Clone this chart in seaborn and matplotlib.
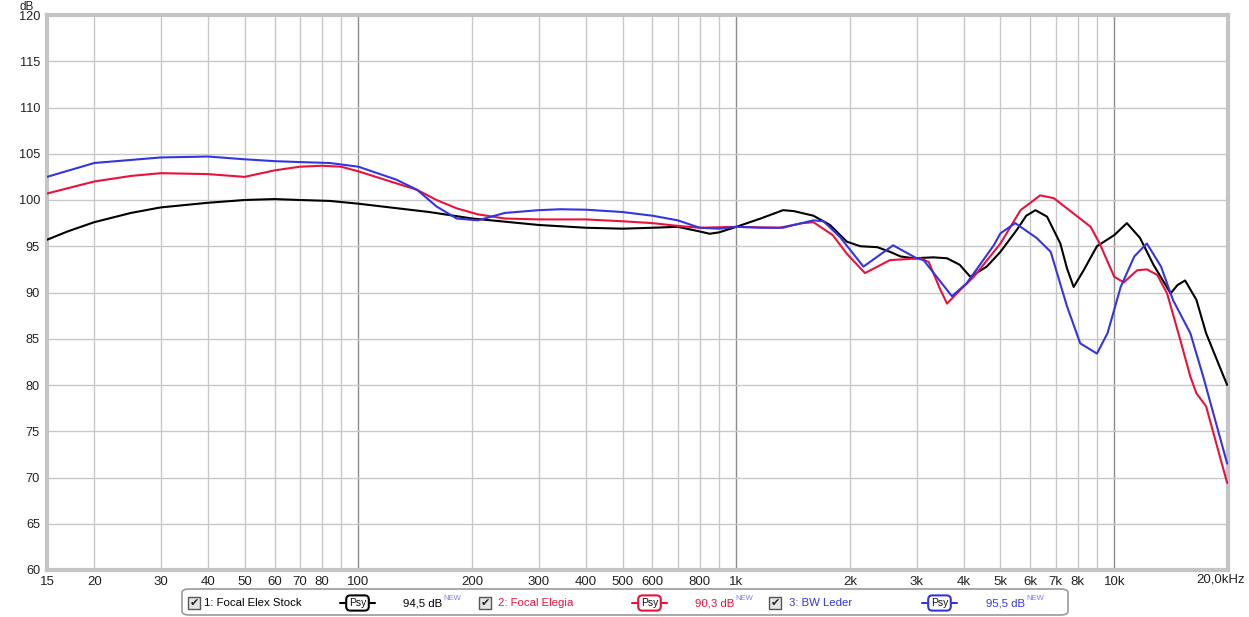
import matplotlib
matplotlib.use("Agg")
import matplotlib.pyplot as plt
import seaborn as sns
import pandas as pd
from matplotlib.patches import FancyBboxPatch, Rectangle
from matplotlib.ticker import FixedLocator, FixedFormatter, NullFormatter

# Focal Elex Stock
black_f = [15, 17, 20, 25, 30, 40, 50, 60, 70, 84, 100, 154, 200, 300, 400, 500, 600, 700,
           800, 850, 900, 1000, 1160, 1330, 1420, 1600, 1770, 1960, 2130, 2360, 2550, 2720,
           2940, 3320, 3610, 3900, 4160, 4600, 5000, 5530, 5850, 6190, 6640, 7200, 7500,
           7810, 8300, 9000, 10000, 10800, 11700, 12700, 14100, 14700, 15400, 16500, 17500,
           19000, 19900]
black_db = [95.7, 96.6, 97.6, 98.6, 99.2, 99.7, 100.0, 100.1, 100.0, 99.9, 99.6, 98.7, 98.0,
            97.3, 97.0, 96.9, 97.0, 97.1, 96.6, 96.35, 96.5, 97.1, 98.0, 98.9, 98.8, 98.3,
            97.3, 95.5, 95.0, 94.9, 94.4, 93.9, 93.7, 93.8, 93.7, 93.0, 91.7, 92.8, 94.4,
            96.8, 98.3, 98.9, 98.2, 95.3, 92.6, 90.6, 92.4, 95.0, 96.2, 97.5, 95.9, 93.0,
            89.9, 90.8, 91.3, 89.2, 85.6, 82.0, 80.0]

# Focal Elegia
red_f = [15, 20, 25, 30, 40, 50, 60, 70, 80, 90, 100, 126, 143, 161, 182, 207, 244, 300, 400,
         500, 600, 700, 800, 1000, 1300, 1500, 1600, 1800, 1960, 2190, 2550, 3070, 3230, 3450,
         3610, 3920, 4250, 5000, 5650, 6370, 6920, 8000, 8660, 9150, 10000, 10600, 11500,
         12200, 13000, 13800, 14950, 15900, 16500, 17500, 19900]
red_db = [100.7, 102.0, 102.6, 102.9, 102.8, 102.5, 103.2, 103.6, 103.7, 103.6, 103.1, 101.8,
          101.1, 100.0, 99.1, 98.45, 98.0, 97.9, 97.9, 97.7, 97.5, 97.2, 97.0, 97.1, 97.0,
          97.5, 97.6, 96.2, 94.2, 92.1, 93.5, 93.7, 93.3, 90.5, 88.8, 90.3, 91.7, 95.3, 98.9,
          100.5, 100.2, 98.2, 97.1, 95.3, 91.7, 91.1, 92.4, 92.5, 91.9, 89.9, 84.9, 80.9, 79.1,
          77.7, 69.4]

# BW Leder
blue_f = [15, 20, 30, 40, 50, 60, 70, 84, 100, 126, 143, 161, 182, 207, 244, 300, 342, 400,
          500, 600, 700, 800, 900, 1000, 1160, 1330, 1420, 1600, 1700, 1880, 2170, 2600,
          3000, 3130, 3720, 4070, 4800, 5000, 5470, 6230, 6790, 7500, 8130, 9000, 9600,
          10400, 11300, 12200, 13300, 14300, 15900, 17200, 19900]
blue_db = [102.5, 104.0, 104.6, 104.7, 104.4, 104.2, 104.1, 104.0, 103.6, 102.2, 101.1, 99.3,
           98.0, 97.8, 98.6, 98.9, 99.0, 98.95, 98.7, 98.3, 97.8, 97.0, 96.9, 97.1, 97.0,
           97.0, 97.3, 97.8, 97.7, 96.0, 92.8, 95.1, 93.7, 93.5, 89.6, 91.0, 95.1, 96.4, 97.5,
           95.9, 94.4, 88.5, 84.5, 83.4, 85.6, 90.6, 93.9, 95.3, 92.8, 89.2, 85.6, 80.9, 71.5]

names = ["1: Focal Elex Stock", "2: Focal Elegia", "3: BW Leder"]
levels = ["94,5 dB", "90,3 dB", "95,5 dB"]
colors = ["#000000", "#e8123c", "#3535e0"]

x_ticks = [15, 20, 30, 40, 50, 60, 70, 80, 100, 200, 300, 400, 500, 600, 800, 1000,
           2000, 3000, 4000, 5000, 6000, 7000, 8000, 10000]
x_labels = ["15", "20", "30", "40", "50", "60", "70", "80", "100", "200", "300", "400",
            "500", "600", "800", "1k", "2k", "3k", "4k", "5k", "6k", "7k", "8k", "10k"]
x_last = "20,0kHz"
y_ticks = list(range(60, 121, 5))

df = pd.concat([
    pd.DataFrame({"freq": black_f, "db": black_db, "curve": names[0]}),
    pd.DataFrame({"freq": red_f, "db": red_db, "curve": names[1]}),
    pd.DataFrame({"freq": blue_f, "db": blue_db, "curve": names[2]}),
])

sns.set_style("white")
plt.rcParams["font.family"] = ["Liberation Sans", "DejaVu Sans"]

W, H = 1249, 617
fig = plt.figure(figsize=(W / 100, H / 100), dpi=100)
ax = fig.add_axes([47 / W, 1 - 570 / H, (1228 - 47) / W, 555 / H])

ax.set_xscale("log")
ax.set_xlim(15, 20000)
ax.set_ylim(60, 120)

# grid
minor = [f * d for d in (10, 100, 1000) for f in range(2, 10)]
for v in minor:
    if 15 < v < 20000:
        ax.axvline(v, color="#c8c8c8", lw=1, zorder=0)
for v in (100, 1000, 10000):
    ax.axvline(v, color="#8c8c8c", lw=1, zorder=0)
for v in y_ticks[1:-1]:
    ax.axhline(v, color="#c8c8c8", lw=1, zorder=0)

sns.lineplot(data=df, x="freq", y="db", hue="curve", palette=colors, sort=False,
             estimator=None, lw=1.5, legend=False, ax=ax, zorder=3)

ax.xaxis.set_major_locator(FixedLocator(x_ticks))
ax.xaxis.set_major_formatter(FixedFormatter(x_labels))
ax.xaxis.set_minor_formatter(NullFormatter())
ax.set_yticks(y_ticks)
ax.tick_params(axis="both", which="both", length=0, labelsize=9.5, colors="#222222")
ax.tick_params(axis="y", labelsize=9.2, pad=5)
ax.tick_params(axis="x", pad=4)
ax.set_xlabel("")
ax.set_ylabel("")
for s in ax.spines.values():
    s.set_color("#c4c4c4")
    s.set_linewidth(3)
    s.set_visible(True)


def fx(x):
    return x / W


def fy(y):
    return 1 - y / H


fig.text(fx(1221), fy(580), x_last, ha="center", va="center", fontsize=9.5, color="#222222")
fig.text(fx(27), fy(10), "dB", ha="center", va="baseline", fontsize=8.5, color="#222222")

# legend strip
box = FancyBboxPatch((fx(182), fy(615)), fx(1068) - fx(182), fy(589) - fy(615),
                     boxstyle="round,pad=0,rounding_size=0.006", transform=fig.transFigure,
                     facecolor="white", edgecolor="#9a9a9a", lw=1.2)
fig.patches.append(box)

yc = 603
items = [(188, 204, 340, 403), (479, 498, 632, 695), (769, 789, 922, 986)]
for (cb, tx, px, lv), name, lev, col in zip(items, names, levels, colors):
    fig.patches.append(Rectangle((fx(cb), fy(yc + 6)), fx(12), 12 / H, transform=fig.transFigure,
                                 facecolor="#e4e4e4", edgecolor="#555555", lw=1))
    fig.text(fx(cb + 6), fy(yc), "\u2714", ha="center", va="center", fontsize=8,
             color="#222222", family="DejaVu Sans")
    fig.text(fx(tx), fy(yc), name, ha="left", va="center", fontsize=8.2, color=col)
    fig.add_artist(plt.Line2D([fx(px), fx(px + 35)], [fy(yc), fy(yc)],
                              transform=fig.transFigure, color=col, lw=1.5))
    fig.text(fx(px + 17.5), fy(yc), "Psy", ha="center", va="center", fontsize=7.5,
             color="#111111",
             bbox=dict(boxstyle="round,pad=0.25,rounding_size=0.4", facecolor="white",
                       edgecolor=col, lw=1.5))
    fig.text(fx(lv), fy(yc), lev, ha="left", va="center", fontsize=8.2, color=col)
    fig.text(fx(lv + 40), fy(yc - 5), "NEW", ha="left", va="center", fontsize=5.5,
             color="#7a7aff")

fig.savefig("out.png", dpi=100)
